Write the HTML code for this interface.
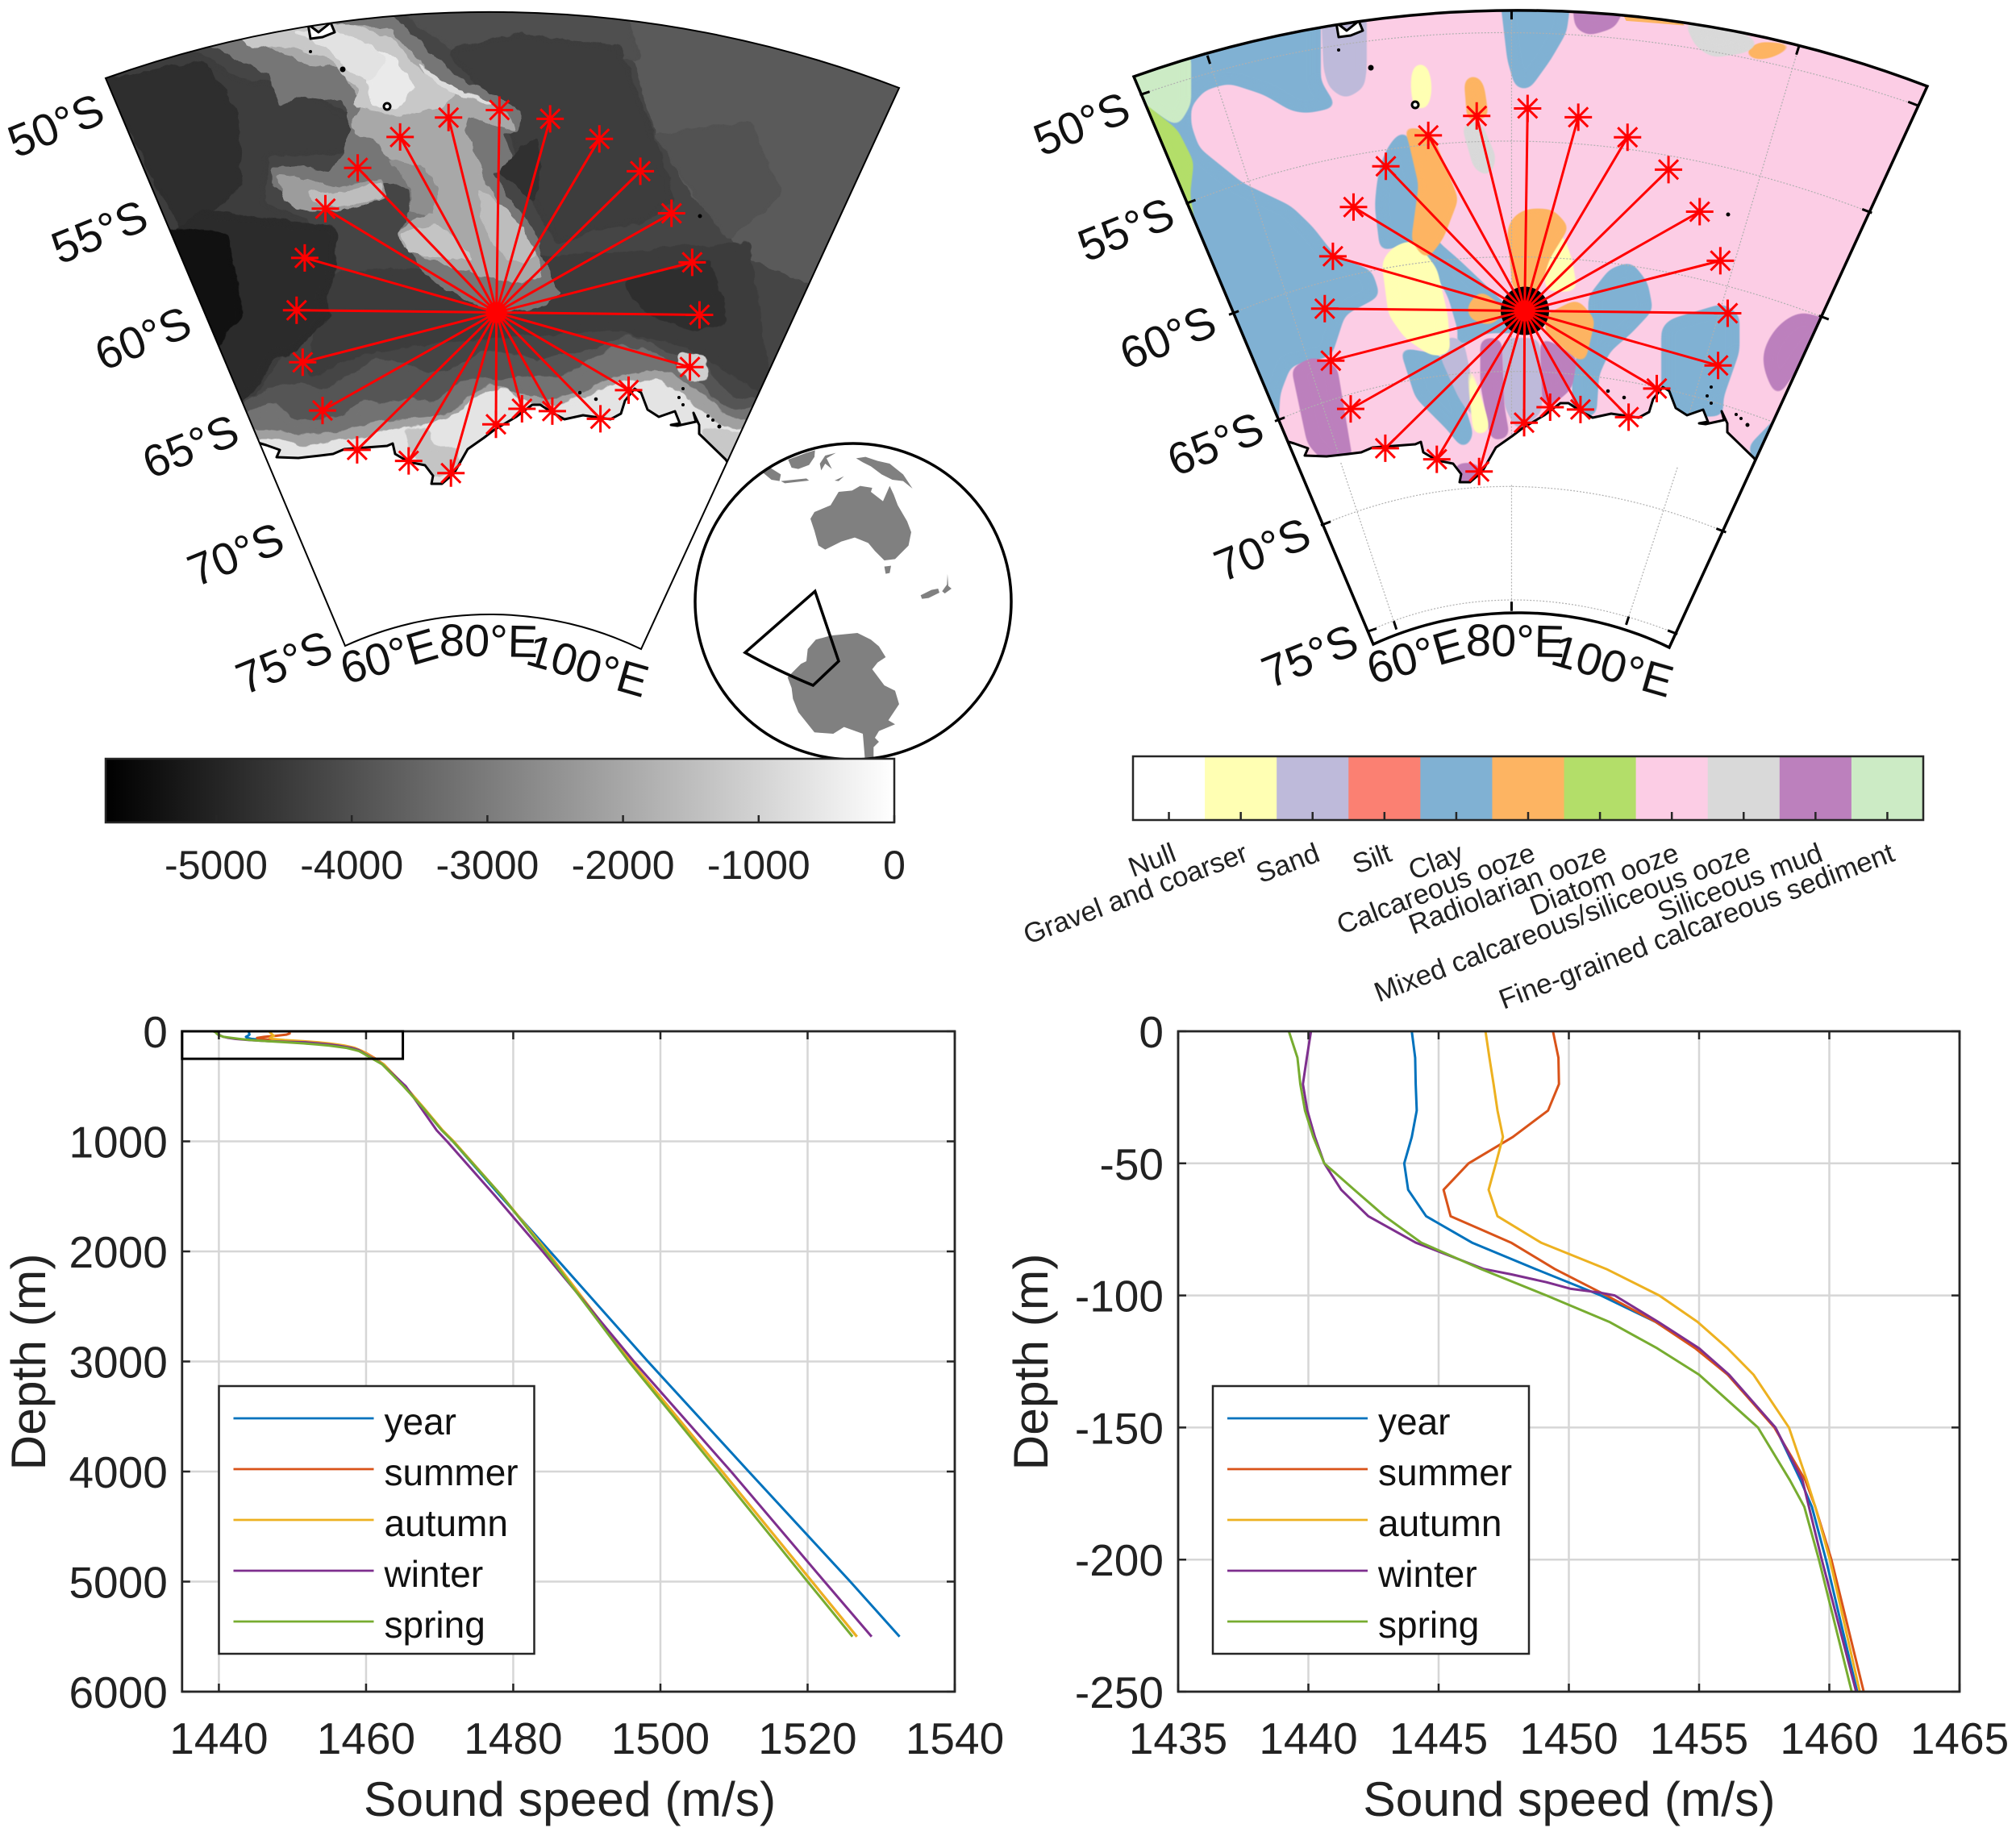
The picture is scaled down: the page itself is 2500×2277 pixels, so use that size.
<!DOCTYPE html>
<html lang="en">
<head>
<meta charset="utf-8">
<title>Sound speed profiles and seafloor maps</title>
<style>
html,body{margin:0;padding:0;background:#fff;}
svg{display:block;font-family:"Liberation Sans",sans-serif;}
.rnd polygon,.rnd path{filter:url(#round);}
.rnd2 path{filter:url(#round2);}
</style>
</head>
<body>
<svg id="fig" xmlns="http://www.w3.org/2000/svg" width="2500" height="2277" viewBox="0 0 2500 2277">
<defs>
  <clipPath id="fan-clip"><path d="M131,97 A1419,1419 0 0 1 1115,109 L795,805 A431,431 0 0 0 428,801 Z"/></clipPath>
  <clipPath id="globe-clip"><circle cx="1058" cy="746" r="196"/></clipPath>
  <clipPath id="plot-left-clip"><rect x="225.8" y="1279" width="958" height="819"/></clipPath>
  <clipPath id="plot-right-clip"><rect x="1461" y="1279" width="969" height="819"/></clipPath>
  <linearGradient id="gray-ramp" x1="0" x2="1" y1="0" y2="0"><stop offset="0" stop-color="#000"/><stop offset="1" stop-color="#fff"/></linearGradient>
  <filter id="round" color-interpolation-filters="sRGB" x="-15%" y="-15%" width="130%" height="130%">
    <feGaussianBlur stdDeviation="5"/>
    <feComponentTransfer><feFuncA type="linear" slope="10" intercept="-4.5"/></feComponentTransfer>
  </filter>
  <filter id="round2" color-interpolation-filters="sRGB" x="-15%" y="-15%" width="130%" height="130%">
    <feGaussianBlur stdDeviation="11"/>
    <feComponentTransfer><feFuncA type="linear" slope="10" intercept="-4.5"/></feComponentTransfer>
  </filter>
  <filter id="organic" color-interpolation-filters="sRGB" filterUnits="userSpaceOnUse" x="0" y="0" width="1300" height="900">
    <feTurbulence type="fractalNoise" baseFrequency="0.05" numOctaves="3" seed="4" result="n"/>
    <feDisplacementMap in="SourceGraphic" in2="n" scale="10" xChannelSelector="R" yChannelSelector="G"/>
  </filter>
  <g id="coast-mask">
    <polygon fill="#fff" points="250,547 313,547 330,552 347,558 343,567 370,568 397,565 413,563 427,557 480,553 487,550 490,563 507,573 527,577 537,590 535,600 548,600 563,587 580,557 600,543 613,533 640,517 660,502 670,502 687,513 700,520 723,515 757,520 770,513 775,497 787,482 795,487 803,508 817,517 837,510 843,525 832,527 840,528 863,523 860,512 867,527 867,538 900,570 905,578 1000,640 1000,1000 250,1000"/>
  </g>
  <g id="coast-lines" fill="none" stroke="#000" stroke-width="3" stroke-linejoin="round">
    <polyline points="313,547 330,552 347,558 343,567 370,568 397,565 413,563 427,557 480,553 487,550 490,563 507,573 527,577 537,590 535,600 548,600 563,587 580,557 600,543 613,533 640,517 660,502 670,502 687,513 700,520 723,515 757,520 770,513 775,497 787,482 795,487 803,508 817,517 837,510 843,525 832,527 840,528 863,523 860,512 867,527 867,538 900,570 905,578"/>
    <polygon fill="#fff" points="382,30 395,40 410,28 415,40 400,46 385,48"/>
    <circle fill="#fff" cx="480" cy="132" r="4"/>
    <circle fill="#000" stroke-width="1" cx="425" cy="86" r="3"/>
    <circle fill="#000" stroke-width="1" cx="385" cy="64" r="1.5"/>
    <circle fill="#000" stroke-width="1" cx="868" cy="268" r="2"/>
    <circle fill="#000" stroke-width="1" cx="719" cy="487" r="1.8"/>
    <circle fill="#000" stroke-width="1" cx="739" cy="495" r="1.8"/>
    <circle fill="#000" stroke-width="1" cx="847" cy="482" r="1.5"/>
    <circle fill="#000" stroke-width="1" cx="842" cy="493" r="1.5"/>
    <circle fill="#000" stroke-width="1" cx="847" cy="502" r="1.5"/>
    <circle fill="#000" stroke-width="1" cx="878" cy="516" r="1.5"/>
    <circle fill="#000" stroke-width="1" cx="884" cy="521" r="1.5"/>
    <circle fill="#000" stroke-width="1" cx="892" cy="529" r="2"/>
  </g>
</defs>

<!-- LEFT MAP -->
<g id="map-left">
  <g clip-path="url(#fan-clip)">
    <path d="M131,97 A1419,1419 0 0 1 1115,109 L795,805 A431,431 0 0 0 428,801 Z" fill="#454545"/>
    <g filter="url(#organic)">
      <g class="rnd" transform="translate(100,0) scale(0.67,0.574)">
        <polygon fill="#5a5a5a" points="1000,0 1600,100 1400,640 1240,560 1130,420 1060,280 1020,120"/>
        <polygon fill="#4f4f4f" points="560,0 1000,0 1040,130 900,120 800,90 700,120"/>
        <polygon fill="#3d3d3d" points="680,110 800,70 1000,100 1060,290 1100,430 1050,480 950,500 880,530 820,400 790,280 740,200"/>
        <polygon fill="#525252" points="1060,290 1240,260 1300,420 1200,520 1140,430"/>
        <polygon fill="#3d3d3d" points="0,150 210,110 300,170 420,190 510,260 500,330 350,340 340,440 420,470 440,560 380,760 320,860 200,800"/>
        <polygon fill="#2e2e2e" points="40,170 230,130 290,240 300,400 240,460 200,520 170,470"/>
      </g>
      <g class="rnd">
        <polygon fill="#3c3c3c" points="400,340 650,320 930,300 960,500 850,430 760,410 600,420 450,440 380,470"/>
        <polygon fill="#2b2b2b" points="250,260 417,280 417,333 403,367 410,393 380,423 363,440 337,443 327,470 303,500 270,500 200,300"/>
        <polygon fill="#111111" points="190,280 285,290 297,367 303,393 287,407 270,433 260,433 240,393"/>
        <polygon fill="#2e2e2e" points="770,350 880,320 905,400 860,410 800,390"/>
        <polygon fill="#555555" points="285,515 330,482 377,472 397,485 440,462 463,445 497,448 530,462 563,458 597,435 633,438 667,448 700,438 733,435 757,425 777,415 800,422 827,435 843,442 873,443 883,465 900,485 920,495 960,492 960,680 285,680"/>
        <polygon fill="#727272" points="290,520 337,497 363,520 403,520 430,514 450,494 480,500 507,494 540,500 563,477 597,470 633,470 667,467 700,464 733,447 767,427 800,434 833,447 873,477 887,500 917,507 960,507 960,680 290,680"/>
        <polygon fill="#a0a0a0" points="300,532 337,532 370,538 413,538 447,528 480,522 513,518 557,512 590,485 613,475 633,485 677,495 710,492 740,475 773,465 813,458 840,468 860,482 877,492 893,512 950,530 950,680 300,680"/>
        <polygon fill="#cfcfcf" points="838,438 876,440 880,472 860,472 840,462"/>
        <polygon fill="#e4e4e4" points="300,545 343,545 373,554 397,550 430,544 463,540 497,530 530,527 563,514 597,487 630,480 640,495 677,504 707,499 740,484 777,472 813,470 840,484 853,497 877,514 893,527 950,539 950,680 300,680"/>
        <polygon fill="#c4c4c4" points="500,530 530,530 537,553 570,553 567,590 530,590 507,557"/>
        <polygon fill="#c8c8c8" points="867,530 925,536 905,580 880,560"/>
      </g>
      <g class="rnd" transform="translate(380,20) scale(0.3333)">
        <polygon fill="#767676" points="-500,70 -200,-20 300,-30 420,100 560,230 700,290 800,360 790,430 730,440 770,540 690,590 760,680 850,800 880,900 950,1030 880,1080 710,1110 600,1060 450,970 400,900 340,820 390,720 380,640 300,620 240,640 130,660 -60,700 -130,620 -130,560 -10,560 80,580 140,510 170,420 130,310 0,300 -100,330 -140,220 -200,190 -320,130"/>
        <polygon fill="#8e8e8e" points="300,530 440,560 560,560 650,600 700,700 600,800 470,760 390,720 390,640"/>
        <polygon fill="#a8a8a8" points="-330,50 -200,10 300,40 400,140 520,260 640,300 760,370 780,430 600,370 590,420 640,540 660,610 720,700 800,800 870,900 870,970 800,1000 620,960 470,910 360,860 340,810 390,760 470,740 490,640 440,560 300,530 270,470 180,440 170,400 210,320 150,250 120,190 0,180 -140,120"/>
        <polygon fill="#9c9c9c" points="-110,590 -20,600 100,640 280,610 300,680 100,730 -20,720 -90,680"/>
        <polygon fill="#c8c8c8" points="-270,70 20,30 170,30 320,80 400,180 500,250 560,290 520,330 420,360 330,370 230,350 170,330 200,280 140,230 100,170 0,130 -100,110 -180,120"/>
        <polygon fill="#eaeaea" points="230,120 310,150 380,210 400,270 340,340 240,340 230,260"/>
        <polygon fill="#e2e2e2" points="-50,60 90,50 230,100 300,170 240,240 150,200 80,120"/>
        <polygon fill="#dcdcdc" points="400,160 500,230 600,290 720,330 640,320 540,280 470,240"/>
        <polygon fill="#c4c4c4" points="350,810 480,770 560,830 620,910 500,900 380,880"/>
        <polygon fill="#bdbdbd" points="640,640 720,700 800,780 860,890 800,920 720,880 650,760"/>
        <polygon fill="#bdbdbd" points="10,650 100,660 280,620 280,680 100,715 20,690"/>
        <polygon fill="#303030" points="720,580 800,480 860,460 880,560 850,690 790,650"/>
      </g>
    </g>
    <use href="#coast-mask"/>
    <use href="#coast-lines"/>
  </g>
  <path d="M131,97 A1419,1419 0 0 1 1115,109 L795,805 A431,431 0 0 0 428,801 Z" fill="none" stroke="#000" stroke-width="2"/>
  <g id="stations-left"></g>
</g>

<!-- RIGHT MAP -->
<g id="map-right" transform="translate(1275,-2)">
  <g clip-path="url(#fan-clip)">
    <path d="M131,97 A1419,1419 0 0 1 1115,109 L795,805 A431,431 0 0 0 428,801 Z" fill="#fccde5"/>
    <g class="rnd2" transform="translate(105,2) scale(0.67,0.574)">
      <path fill="#80b1d3" d="M145,90 L385,20 L385,175 L415,232 L360,245 L330,240 L280,205 L215,180 L170,195 L145,230 L145,270 L160,320 L240,395 L330,445 L370,490 L410,550 L480,585 L495,640 L430,680 L405,770 L330,790 L310,850 L305,950 L-100,950 L-100,90 Z"/>
      <path fill="#80b1d3" d="M540,280 C500,310 488,370 485,450 L495,545 L560,520 L620,640 L640,720 L625,770 L530,750 L560,860 L620,930 L650,975 L668,940 L640,830 L605,770 L690,720 L760,720 L730,660 L640,560 L600,520 L570,400 L550,300 Z"/>
      <path fill="#80b1d3" d="M715,-20 L850,-20 L840,70 L810,130 L770,195 L745,190 L730,130 Z"/>
      <path fill="#80b1d3" d="M880,640 L920,580 L960,565 L990,610 L1000,670 L960,720 L920,760 L900,810 L895,900 L850,900 L850,800 L880,700 Z"/>
      <path fill="#80b1d3" d="M1015,710 L1030,690 L1130,655 L1160,680 L1160,760 L1130,860 L1130,900 L1060,900 L1015,850 Z"/>
      <path fill="#80b1d3" d="M1175,965 L1225,905 L1280,830 L1280,1010 L1195,1020 Z"/>
      <path fill="#bebada" d="M385,20 L470,20 L470,150 L465,190 L430,215 L400,190 L390,150 Z"/>
      <path fill="#bebada" d="M605,770 L620,720 L650,740 L670,850 L680,930 L640,860 Z"/>
      <path fill="#bebada" d="M720,730 L790,730 L795,890 L750,935 L725,880 Z"/>
      <path fill="#bc80bd" d="M680,730 L720,730 L725,880 L735,945 L700,955 L680,830 Z"/>
      <path fill="#bc80bd" d="M790,725 L860,770 L850,840 L820,870 L795,885 Z"/>
      <path fill="#bc80bd" d="M330,795 L370,770 L415,790 L445,1000 L400,1010 L360,960 Z"/>
      <path fill="#bc80bd" d="M1205,760 C1220,700 1260,675 1280,675 L1340,695 L1290,760 L1230,860 C1210,820 1200,790 1205,760 Z"/>
      <path fill="#bc80bd" d="M850,0 L950,10 L930,60 L880,78 L855,60 Z"/>
      <path fill="#bc80bd" d="M630,1000 L680,1000 L680,1050 L640,1050 Z"/>
      <path fill="#ffffb3" d="M498,570 C505,540 530,520 560,520 L600,580 L620,680 L625,765 L590,770 L540,730 L510,680 Z"/>
      <path fill="#ffffb3" d="M555,150 C560,130 575,125 584,150 C595,185 590,220 578,240 L558,235 C550,200 550,170 555,150 Z"/>
      <path fill="#ffffb3" d="M800,540 L830,495 L850,560 L860,630 L800,630 Z"/>
      <path fill="#ffffb3" d="M650,760 L668,800 L695,910 L697,935 L668,942 L660,860 Z"/>
      <path fill="#fdb462" d="M650,175 C660,155 680,155 688,190 L696,255 L656,265 Z"/>
      <path fill="#fdb462" style="filter:none" d="M945,33 L1050,45 L1058,55 L950,45 Z"/>
      <path fill="#fdb462" d="M1165,115 L1195,90 L1270,95 L1220,125 L1190,130 Z"/>
      <path fill="#fdb462" d="M535,270 L590,285 L640,430 L612,515 L580,565 L552,520 L566,400 L546,300 Z"/>
      <path fill="#fdb462" d="M730,500 C735,470 750,452 780,450 L815,452 L845,490 L808,560 L790,630 L740,630 Z"/>
      <path fill="#fdb462" d="M655,662 L680,625 L730,670 L700,705 L660,690 Z"/>
      <path fill="#fdb462" d="M800,680 L860,645 L893,690 L873,790 L800,720 Z"/>
      <path fill="#d9d9d9" d="M645,270 L680,258 L710,340 L698,385 L668,365 Z"/>
      <path fill="#d9d9d9" d="M1055,42 L1170,72 L1198,95 L1170,115 L1110,125 L1078,100 Z"/>
      <path fill="#ccebc5" d="M-60,170 L145,110 L145,225 L120,275 L50,220 L-60,220 Z"/>
      <path fill="#b3de69" d="M-60,215 L50,215 L120,280 L150,350 L143,420 L155,500 L100,520 L-60,520 Z"/>
    </g>
    <g transform="translate(105,2) scale(0.67,0.574)" fill="none" stroke="#b0b0b0" stroke-width="1.2" stroke-dasharray="2 2">
      <path vector-effect="non-scaling-stroke" d="M50,205 Q735,-75 1490,228"/>
      <path vector-effect="non-scaling-stroke" d="M135,440 Q735,160 1405,460"/>
      <path vector-effect="non-scaling-stroke" d="M215,680 Q735,425 1325,690"/>
      <path vector-effect="non-scaling-stroke" d="M300,910 Q735,690 1240,920"/>
      <path vector-effect="non-scaling-stroke" d="M175,120 L525,1360"/>
      <path vector-effect="non-scaling-stroke" d="M738,22 L738,1320"/>
      <path vector-effect="non-scaling-stroke" d="M1270,100 L950,1350"/>
    </g>
    <use href="#coast-mask"/>
    <use href="#coast-lines"/>
    <g transform="translate(105,2) scale(0.67,0.574)" fill="none" stroke="#b0b0b0" stroke-width="1.2" stroke-dasharray="2 2">
      <path vector-effect="non-scaling-stroke" d="M385,1135 Q735,960 1135,1150"/>
      <path vector-effect="non-scaling-stroke" d="M470,1365 Q735,1225 1045,1370"/>
      <path vector-effect="non-scaling-stroke" d="M422,1000 L525,1360"/>
      <path vector-effect="non-scaling-stroke" d="M738,1048 L738,1320"/>
      <path vector-effect="non-scaling-stroke" d="M1045,1010 L950,1350"/>
    </g>
    <circle id="black-disc" r="30" fill="#000" cx="616" cy="387.5"/>
  </g>
  <path d="M131,97 A1419,1419 0 0 1 1115,109 L795,805 A431,431 0 0 0 428,801 Z" fill="none" stroke="#000" stroke-width="3.5"/>
  <g transform="translate(105,2) scale(0.67,0.574)" stroke="#000" stroke-width="3">
    <line vector-effect="non-scaling-stroke" x1="50" y1="205" x2="68" y2="198"/>
    <line vector-effect="non-scaling-stroke" x1="135" y1="440" x2="153" y2="432"/>
    <line vector-effect="non-scaling-stroke" x1="215" y1="680" x2="233" y2="672"/>
    <line vector-effect="non-scaling-stroke" x1="300" y1="910" x2="318" y2="902"/>
    <line vector-effect="non-scaling-stroke" x1="385" y1="1135" x2="403" y2="1127"/>
    <line vector-effect="non-scaling-stroke" x1="470" y1="1365" x2="488" y2="1358"/>
    <line vector-effect="non-scaling-stroke" x1="1490" y1="228" x2="1472" y2="220"/>
    <line vector-effect="non-scaling-stroke" x1="1405" y1="460" x2="1387" y2="452"/>
    <line vector-effect="non-scaling-stroke" x1="1325" y1="690" x2="1307" y2="682"/>
    <line vector-effect="non-scaling-stroke" x1="1135" y1="1150" x2="1117" y2="1142"/>
    <line vector-effect="non-scaling-stroke" x1="1045" y1="1370" x2="1027" y2="1362"/>
    <line vector-effect="non-scaling-stroke" x1="175" y1="120" x2="180" y2="138"/>
    <line vector-effect="non-scaling-stroke" x1="738" y1="22" x2="738" y2="42"/>
    <line vector-effect="non-scaling-stroke" x1="1270" y1="100" x2="1265" y2="118"/>
    <line vector-effect="non-scaling-stroke" x1="525" y1="1360" x2="520" y2="1342"/>
    <line vector-effect="non-scaling-stroke" x1="738" y1="1320" x2="738" y2="1300"/>
    <line vector-effect="non-scaling-stroke" x1="950" y1="1350" x2="955" y2="1332"/>
  </g>
  <g id="stations-right"></g>
</g>

<!-- INSET GLOBE -->
<g id="globe">
  <circle cx="1058" cy="746" r="196" fill="#fff"/>
  <g clip-path="url(#globe-clip)">
    <g transform="translate(840,520) scale(0.3333)" fill="#808080">
      <polygon points="495,370 510,345 570,320 600,270 650,265 680,248 725,255 720,270 765,305 790,248 805,280 820,320 855,380 870,420 860,470 810,520 770,525 735,490 710,460 660,440 610,455 550,485 525,470 510,415"/>
      <polygon points="770,548 795,545 790,572 775,575"/>
      <polygon points="905,655 945,635 970,630 975,645 935,665 910,668"/>
      <polygon points="985,640 1003,615 1005,575 1008,620 1020,630 995,648"/>
      <polygon points="665,145 700,140 745,155 790,165 840,205 875,258 840,230 800,225 760,205 720,175 690,160"/>
      <polygon points="412,150 480,125 512,115 510,140 490,170 450,185 425,180"/>
      <polygon points="320,200 345,180 385,205 380,230 350,225"/>
      <polygon points="385,230 480,220 490,228 400,238"/>
      <polygon points="530,165 550,135 590,125 555,145 575,185 550,165 535,190"/>
      <polygon points="585,228 620,212 600,230"/>
      <polygon points="410,960 430,940 460,910 480,900 485,855 515,820 570,805 620,800 670,795 720,820 750,845 775,885 745,905 725,930 770,990 810,1010 825,1060 785,1120 810,1135 750,1160 735,1185 750,1200 730,1220 730,1290 700,1290 690,1170 620,1145 580,1170 510,1165 450,1090 430,1040 425,1000"/>
    </g>
  </g>
  <circle cx="1058" cy="746" r="196" fill="none" stroke="#000" stroke-width="3.5"/>
  <path d="M1010.7,733.3 L1040,820 L1008.3,850 Q960,830 924,809.3 Z" fill="none" stroke="#000" stroke-width="3.5"/>
</g>

<g id="cb-left">
  <rect x="131" y="941" width="978" height="79" fill="url(#gray-ramp)" stroke="#262626" stroke-width="2.5"/>
</g>
<g id="cb-right"></g>
<g id="map-labels"></g>
<g id="plot-left"></g>
<g id="plot-right"></g>
</svg>

<script>
// ---- chart data ----
var stationLon = [60.8,59.9,60.5,63.3,69.5,74.9,80.9,84.0,87.65,93.5,96.0,101.8,101.1,99.0,96.1,92.75,89.0,84.9,80.85,76.8,72.8,69.0,65.65,62.85];
var stationLat = [-61.44,-63.54,-65.65,-67.56,-68.41,-69.1,-67.17,-66.5,-66.49,-66.5,-65.12,-63.54,-61.4,-59.44,-57.72,-56.31,-55.27,-54.66,-54.39,-54.66,-55.3,-56.32,-57.71,-59.47];
var centerLon = 80.8;
var centerLat = -62.62;

var depthTicksCb = [-5000,-4000,-3000,-2000,-1000,0];
var sedimentNames = ["Null","Gravel and coarser","Sand","Silt","Clay","Calcareous ooze","Radiolarian ooze","Diatom ooze","Mixed calcareous/siliceous ooze","Siliceous mud","Fine-grained calcareous sediment"];
var sedimentColors = ["#ffffff","#ffffb3","#bebada","#fb8072","#80b1d3","#fdb462","#b3de69","#fccde5","#d9d9d9","#bc80bd","#ccebc5"];

var seriesNames = ["year","summer","autumn","winter","spring"];
var seriesColors = ["#0072BD","#D95319","#EDB120","#7E2F8E","#77AC30"];

var surfaceDepths = [0,10,20,30,40,50,60,70,80,90,100,110,120,130,150,170,180,200,250];
var winterSurfaceDepths = [0,10,20,30,40,50,60,70,80,90,92,95,97.5,99,100,110,120,130,150,170,200,250];
var yearSurface = [1443.97,1444.10,1444.12,1444.16,1443.97,1443.68,1443.83,1444.52,1446.28,1448.72,1451.23,1453.33,1454.9,1456.1,1457.93,1458.9,1459.33,1459.87,1461.07];
var summerSurface = [1449.39,1449.6,1449.62,1449.2,1447.85,1446.15,1445.19,1445.46,1447.78,1449.46,1451.44,1453.33,1454.85,1456.1,1457.89,1459.08,1459.46,1460.08,1461.32];
var autumnSurface = [1446.8,1446.95,1447.11,1447.26,1447.47,1447.2,1446.92,1447.26,1448.93,1451.44,1453.47,1454.94,1456.09,1457.09,1458.45,1459.14,1459.46,1460.02,1461.17];
var winterSurface = [1440.1,1439.94,1439.79,1439.96,1440.25,1440.61,1441.26,1442.3,1444.12,1446.74,1447.78,1449.14,1450.08,1451.23,1451.76,1453.43,1455.0,1456.15,1457.93,1458.97,1459.71,1461.03];
var springSurface = [1439.25,1439.58,1439.69,1439.87,1440.19,1440.61,1441.76,1442.93,1444.33,1446.63,1449.14,1451.55,1453.39,1455.0,1457.26,1458.49,1459.04,1459.6,1460.86];

var deepDepths = [300,500,700,900,1000,1500,2000,3000,4000,5000,5500];
var yearDeep = [1462.3,1465.2,1467.8,1470.3,1471.8,1478.3,1485.0,1498.3,1512.0,1525.8,1532.5];
var summerDeep = [1462.4,1465.3,1467.9,1470.4,1471.9,1478.5,1484.6,1496.0,1508.4,1520.6,1526.7];
var autumnDeep = [1462.4,1465.3,1467.9,1470.4,1471.9,1478.5,1484.6,1496.0,1508.4,1520.6,1526.7];
var winterDeep = [1462.2,1465.4,1467.5,1469.6,1471.0,1477.6,1484.0,1496.4,1509.6,1522.3,1528.7];
var springDeep = [1462.2,1465.1,1467.8,1470.3,1471.8,1478.5,1484.4,1495.7,1507.9,1520.0,1526.1];

var leftXTicks = [1440,1460,1480,1500,1520,1540];
var leftYTicks = [0,1000,2000,3000,4000,5000,6000];
var rightXTicks = [1435,1440,1445,1450,1455,1460,1465];
var rightYTicks = [0,-50,-100,-150,-200,-250];

var insetBoxSpeedMax = 1465;
var insetBoxDepthMax = 250;

var latLabels = ["50°S","55°S","60°S","65°S","70°S","75°S"];
var lonLabels = ["60°E","80°E","100°E"];

// ---- helpers ----
var NS = "http://www.w3.org/2000/svg";
function mk(tag, attrs, parent) {
  var el = document.createElementNS(NS, tag);
  for (var k in attrs) el.setAttribute(k, attrs[k]);
  parent.appendChild(el);
  return el;
}
function txt(str, attrs, parent) {
  var el = mk("text", attrs, parent);
  el.textContent = str;
  return el;
}
function project(lon, lat) {
  var r = 454 + (lat + 75) * 30.5;
  var ang = (lon - 80) * 0.83 * Math.PI / 180;
  return [606 + r * Math.sin(ang), 1219 - r * Math.cos(ang)];
}

// ---- stations ----
function drawStations(group) {
  var c = project(centerLon, centerLat);
  for (var i = 0; i < stationLon.length; i++) {
    var p = project(stationLon[i], stationLat[i]);
    var ln = mk("line", {x1:c[0], y1:c[1], x2:p[0], y2:p[1], stroke:"#f00", "stroke-width":3}, group);
    
    
  }
  for (var j = 0; j < stationLon.length; j++) {
    var q = project(stationLon[j], stationLat[j]);
    var star = mk("path", {d:"M"+(q[0]-17)+","+q[1]+"H"+(q[0]+17)+"M"+q[0]+","+(q[1]-17)+"V"+(q[1]+17)+"M"+(q[0]-12)+","+(q[1]-12)+"L"+(q[0]+12)+","+(q[1]+12)+"M"+(q[0]-12)+","+(q[1]+12)+"L"+(q[0]+12)+","+(q[1]-12), stroke:"#f00", "stroke-width":3, fill:"none"}, group);
    
    
  }
  var hub = mk("circle", {cx:c[0], cy:c[1], r:13, fill:"#f00"}, group);
  
  
}
drawStations(document.getElementById("stations-left"));
drawStations(document.getElementById("stations-right"));

// ---- left colorbar ----
(function () {
  var g = document.getElementById("cb-left");
  function cx(v) { return 1109 + v * 0.1682; }
  depthTicksCb.forEach(function (v) {
    var t = mk("line", {x1:cx(v), x2:cx(v), y1:1020, y2:1011, stroke:"#262626", "stroke-width":2.5}, g);
    
    
    var l = txt(String(v), {x:cx(v), y:1090, "text-anchor":"middle", "font-size":50, fill:"#222"}, g);
    
    
  });
})();

// ---- right colorbar ----
(function () {
  var g = document.getElementById("cb-right");
  var x0 = 1405, x1 = 2385, y0 = 938, y1 = 1017;
  var w = (x1 - x0) / sedimentNames.length;
  sedimentNames.forEach(function (name, i) {
    var r = mk("rect", {x:x0 + i * w, y:y0, width:w + 0.5, height:y1 - y0, fill:sedimentColors[i]}, g);
    
    
  });
  var o = mk("rect", {x:x0, y:y0, width:x1 - x0, height:y1 - y0, fill:"none", stroke:"#262626", "stroke-width":2.5}, g);
  
  
  sedimentNames.forEach(function (name, i) {
    var cx = x0 + (i + 0.5) * w;
    var t = mk("line", {x1:cx, x2:cx, y1:y1, y2:y1 - 10, stroke:"#262626", "stroke-width":2.5}, g);
    
    
    var ax = cx + 11, ay = 1067;
    var l = txt(name, {x:ax, y:ay, "text-anchor":"end", "font-size":34.6, fill:"#222", transform:"rotate(-20.8 " + ax + " " + ay + ")"}, g);
    
    
  });
})();

// ---- map labels ----
(function () {
  var g = document.getElementById("map-labels");
  function put(s, cx, cy, rot) {
    var l = txt(s, {"text-anchor":"middle", x:0, y:20, "font-size":56, fill:"#111", transform:"translate(" + cx + "," + cy + ") rotate(" + rot + ")"}, g);
    
    
  }
  var latX = [69,123,177,236,292,352];
  var latY = [155,287,419,553,687,821];
  var latXR = [1341,1396,1448,1507,1565,1624];
  var latYR = [153,284,418,550,681,813];
  latLabels.forEach(function (s, i) {
    put(s, latX[i], latY[i], -22);
    put(s, latXR[i], latYR[i], -22);
  });
  var lonX = [482,606,729];
  var lonXR = [1755,1879,2000];
  var lonY = [813,794,825];
  var lonRot = [-16,1,16];
  lonLabels.forEach(function (s, i) {
    put(s, lonX[i], lonY[i], lonRot[i]);
    put(s, lonXR[i], lonY[i], lonRot[i]);
  });
})();

// ---- profile charts ----
function drawPlot(cfg) {
  var g = document.getElementById(cfg.id);
  var xs = function (v) { return cfg.L + (v - cfg.xMin) / (cfg.xMax - cfg.xMin) * (cfg.R - cfg.L); };
  var ys = function (d) { return cfg.T + d / cfg.dMax * (cfg.B - cfg.T); };
  var bg = mk("rect", {x:cfg.L, y:cfg.T, width:cfg.R - cfg.L, height:cfg.B - cfg.T, fill:"#fff"}, g);
  
  
  cfg.xTicks.forEach(function (v) {
    var gl = mk("line", {x1:xs(v), x2:xs(v), y1:cfg.T, y2:cfg.B, stroke:"#d6d6d6", "stroke-width":2.5}, g);
    
    
  });
  cfg.yTicks.forEach(function (v) {
    var yy = ys(Math.abs(v));
    var gl = mk("line", {x1:cfg.L, x2:cfg.R, y1:yy, y2:yy, stroke:"#d6d6d6", "stroke-width":2.5}, g);
    
    
  });
  cfg.series.forEach(function (s) {
    var pts = s.speeds.map(function (v, i) { return xs(v) + "," + ys(s.depths[i]); }).join(" ");
    var pl = mk("polyline", {points:pts, fill:"none", stroke:s.color, "stroke-width":cfg.lw, "stroke-linejoin":"round", "clip-path":"url(#" + cfg.clip + ")"}, g);
    
    
  });
  var box = mk("rect", {x:cfg.L, y:cfg.T, width:cfg.R - cfg.L, height:cfg.B - cfg.T, fill:"none", stroke:"#262626", "stroke-width":2.8}, g);
  
  
  cfg.xTicks.forEach(function (v) {
    var x = xs(v);
    var t = mk("path", {d:"M" + x + "," + cfg.B + "v-10M" + x + "," + cfg.T + "v10", stroke:"#262626", "stroke-width":2.5}, g);
    
    
    var l = txt(String(v), {x:x, y:2175, "text-anchor":"middle", "font-size":55, fill:"#222"}, g);
    
    
  });
  cfg.yTicks.forEach(function (v) {
    var y = ys(Math.abs(v));
    var t = mk("path", {d:"M" + cfg.L + "," + y + "h10M" + cfg.R + "," + y + "h-10", stroke:"#262626", "stroke-width":2.5}, g);
    
    
    var l = txt(String(v), {x:cfg.L - 18, y:y + 20, "text-anchor":"end", "font-size":55, fill:"#222"}, g);
    
    
  });
  var xl = txt("Sound speed (m/s)", {x:cfg.xLabelX, y:2252, "text-anchor":"middle", "font-size":60.5, fill:"#222"}, g);
  
  
  var yl = txt("Depth (m)", {x:0, y:0, "text-anchor":"middle", "font-size":60.5, fill:"#222", transform:"translate(" + cfg.yLabelX + ",1689) rotate(-90)"}, g);
  
  

  if (cfg.inset) {
    var ib = mk("rect", {x:cfg.L, y:cfg.T, width:xs(insetBoxSpeedMax) - cfg.L, height:ys(insetBoxDepthMax) - cfg.T, fill:"none", stroke:"#000", "stroke-width":3}, g);
    
    
  }

  var lg = mk("g", {}, g);
  
  
  var lb = mk("rect", {x:cfg.legX, y:1719, width:cfg.legW, height:332, fill:"#fff", stroke:"#262626", "stroke-width":2.5}, lg);
  
  
  var rows = [1759,1822,1885,1948,2011];
  seriesNames.forEach(function (n, i) {
    var sw = mk("line", {x1:cfg.legX + 18, x2:cfg.legX + 192, y1:rows[i], y2:rows[i], stroke:seriesColors[i], "stroke-width":2.8}, lg);
    
    
    var tx = txt(n, {x:cfg.legX + 205, y:rows[i] + 20, "font-size":46, fill:"#111"}, lg);
    
    
  });
}

var surfaceSpeeds = [yearSurface, summerSurface, autumnSurface, winterSurface, springSurface];
var deepSpeeds = [yearDeep, summerDeep, autumnDeep, winterDeep, springDeep];

var rightSeries = seriesNames.map(function (n, i) {
  return {name:n, color:seriesColors[i], speeds:surfaceSpeeds[i], depths:(n === "winter" ? winterSurfaceDepths : surfaceDepths)};
});
var leftSeries = seriesNames.map(function (n, i) {
  return {name:n, color:seriesColors[i], speeds:surfaceSpeeds[i].concat(deepSpeeds[i]), depths:(n === "winter" ? winterSurfaceDepths : surfaceDepths).concat(deepDepths)};
});

drawPlot({id:"plot-left", L:225.8, R:1184, T:1279, B:2098, xMin:1435, xMax:1540, dMax:6000, xTicks:leftXTicks, yTicks:leftYTicks, series:leftSeries, clip:"plot-left-clip", lw:3, xLabelX:706.6, yLabelX:56, inset:true, legX:271.5, legW:391});
drawPlot({id:"plot-right", L:1461, R:2430, T:1279, B:2098, xMin:1435, xMax:1465, dMax:250, xTicks:rightXTicks, yTicks:rightYTicks, series:rightSeries, clip:"plot-right-clip", lw:3, xLabelX:1946, yLabelX:1299, inset:false, legX:1504, legW:392});
</script>
</body>
</html>
